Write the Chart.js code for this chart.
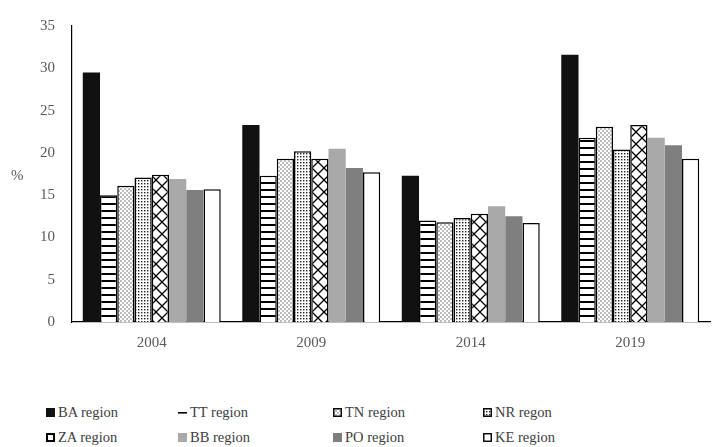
<!DOCTYPE html>
<html>
<head>
<meta charset="utf-8">
<script src="https://cdn.jsdelivr.net/npm/chart.js@4/dist/chart.umd.min.js"></script>
<style>
    body { margin: 0; background: #fff; width: 712px; height: 447px; overflow: hidden; font-family: "Liberation Serif", "Times New Roman", serif; }
    #wrap { position: relative; width: 712px; height: 447px; }
    #legend { position: absolute; left: 0; top: 400px; width: 712px; height: 47px; }
    .item { position: absolute; font-family: "Liberation Serif", serif; font-size: 14.5px; color: #404040; line-height: 18px; white-space: nowrap; }
    .item canvas { position: absolute; left: 0; top: 5px; }
    .item span { position: absolute; left: 12px; top: 0; }
</style>
</head>
<body>
<div id="wrap">
    <canvas id="myChart" width="712" height="362"></canvas>
    <div id="legend"></div>
</div>
<script>
var years = ['2004', '2009', '2014', '2019'];
var regions = ['BA region', 'TT region', 'TN region', 'NR regon', 'ZA region', 'BB region', 'PO region', 'KE region'];
var BA = [29.5, 23.3, 17.3, 31.6];
var TT = [15.0, 17.3, 12.0, 21.8];
var TN = [16.1, 19.3, 11.8, 23.1];
var NR = [17.1, 20.2, 12.3, 20.4];
var ZA = [17.4, 19.3, 12.8, 23.3];
var BB = [16.9, 20.5, 13.7, 21.8];
var PO = [15.6, 18.2, 12.5, 20.9];
var KE = [15.7, 17.7, 11.7, 19.3];
var yTicks = [0, 5, 10, 15, 20, 25, 30, 35];

function tile(w, h, draw) {
    var c = document.createElement('canvas');
    c.width = w; c.height = h;
    var x = c.getContext('2d');
    x.fillStyle = '#fff';
    x.fillRect(0, 0, w, h);
    draw(x);
    return document.createElement('canvas').getContext('2d').createPattern(c, 'repeat');
}

// hatch fills
var fillTT = tile(8, 7, function (x) {
    x.fillStyle = '#000';
    x.fillRect(0, 0, 8, 2);
});
var fillTN = tile(4, 4, function (x) {
    x.fillStyle = '#bdbdbd';
    x.fillRect(0, 0, 2, 2);
    x.fillRect(2, 2, 2, 2);
});
var fillNR = tile(3, 3, function (x) {
    x.fillStyle = '#222';
    x.fillRect(0, 0, 1.4, 1.4);
});
var fillZA = tile(12, 12, function (x) {
    x.strokeStyle = '#000';
    x.lineWidth = 1.3;
    x.beginPath();
    x.moveTo(0, 0); x.lineTo(12, 12);
    x.moveTo(12, 0); x.lineTo(0, 12);
    x.stroke();
});

var styles = [
    { bg: '#111', border: '#111', bw: 0 },
    { bg: fillTT, border: '#000', bw: 1.5 },
    { bg: fillTN, border: '#000', bw: 1.5 },
    { bg: fillNR, border: '#000', bw: 1.5 },
    { bg: fillZA, border: '#000', bw: 1.5 },
    { bg: '#a9a9a9', border: '#a9a9a9', bw: 0 },
    { bg: '#7f7f7f', border: '#7f7f7f', bw: 0 },
    { bg: '#fff', border: '#000', bw: 1.5 }
];
var series = [BA, TT, TN, NR, ZA, BB, PO, KE];

var datasets = series.map(function (d, i) {
    return {
        label: regions[i],
        data: d,
        backgroundColor: styles[i].bg,
        borderColor: styles[i].border,
        borderWidth: styles[i].bw,
        categoryPercentage: 0.865,
        barPercentage: 1.0
    };
});

// the horizontal "%" beside the y axis
var percentLabel = {
    id: 'percentLabel',
    afterDraw: function (chart) {
        var ctx = chart.ctx;
        ctx.save();
        ctx.font = '15px "Liberation Serif"';
        ctx.fillStyle = '#595959';
        ctx.textAlign = 'left';
        ctx.textBaseline = 'middle';
        ctx.fillText('%', 11, 176);
        ctx.restore();
    }
};

var chart = new Chart(document.getElementById('myChart'), {
    type: 'bar',
    data: {
        labels: years,
        datasets: datasets
    },
    options: {
        responsive: false,
        animation: false,
        layout: { padding: { left: 0, right: 2, top: 24, bottom: 0 } },
        plugins: {
            legend: { display: false },
            tooltip: { enabled: false }
        },
        scales: {
            x: {
                grid: { display: false, drawTicks: false },
                border: { display: true, color: '#000', width: 1.2 },
                ticks: {
                    color: '#595959',
                    font: { family: 'Liberation Serif', size: 15 },
                    padding: 12
                },
                afterFit: function (scale) { scale.height = 40; }
            },
            y: {
                min: 0,
                max: 35,
                afterBuildTicks: function (scale) {
                    scale.ticks = yTicks.map(function (v) { return { value: v }; });
                },
                grid: { display: false, drawTicks: false },
                border: { display: true, color: '#000', width: 1.2 },
                ticks: {
                    color: '#595959',
                    font: { family: 'Liberation Serif', size: 15 },
                    padding: 17
                },
                afterFit: function (scale) { scale.width = 72; }
            }
        }
    },
    plugins: [percentLabel]
});

// legend in a 4 x 2 grid
var colX = [46, 178, 333, 483];
var rowY = [3, 28];
var legend = document.getElementById('legend');
regions.forEach(function (name, i) {
    var div = document.createElement('div');
    div.className = 'item';
    div.style.left = colX[i % 4] + 'px';
    div.style.top = rowY[Math.floor(i / 4)] + 'px';
    var c = document.createElement('canvas');
    c.width = 10; c.height = 10;
    var x = c.getContext('2d');
    if (i == 1) {
        x.fillStyle = '#000';
        x.fillRect(0, 4, 9, 1.6);
    } else if (i == 4) {
        x.fillStyle = '#fff';
        x.fillRect(0, 0, 9, 9);
        x.strokeStyle = '#000';
        x.lineWidth = 2;
        x.strokeRect(1, 1, 7, 7);
    } else {
        x.fillStyle = styles[i].bg;
        x.fillRect(0, 0, 9, 9);
        if (styles[i].bw) {
            x.strokeStyle = '#000';
            x.lineWidth = 1.4;
            x.strokeRect(0.75, 0.75, 7.5, 7.5);
        }
    }
    var s = document.createElement('span');
    s.textContent = name;
    div.appendChild(c);
    div.appendChild(s);
    legend.appendChild(div);
});
</script>
</body>
</html>
